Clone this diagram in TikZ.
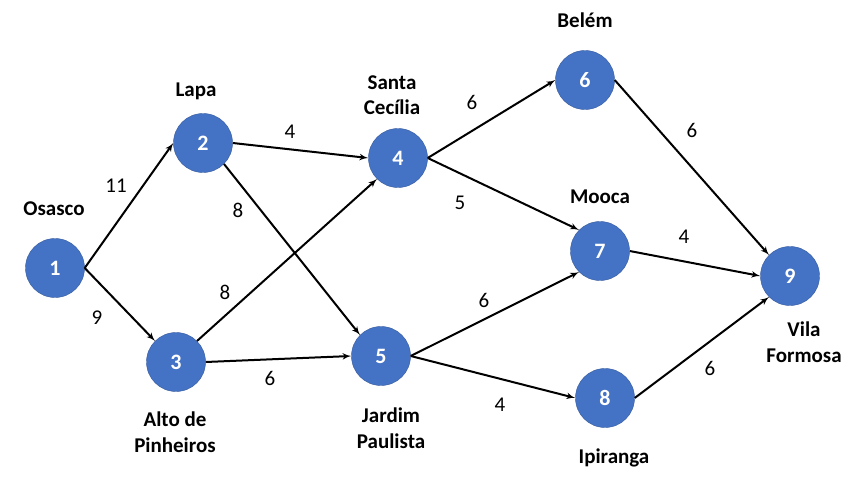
\documentclass[tikz,border=0pt]{standalone}
\usepackage{fontspec}
\setmainfont{Carlito}
\usepackage{tikz}
\usetikzlibrary{shapes, arrows}
\definecolor{cityBlue}{HTML}{4472C4}
\tikzstyle{city} = [circle, fill=cityBlue, draw=cityBlue!80!black, line width=0.4pt, minimum size=59pt, inner sep=0pt, text=white, font=\fontsize{22}{25}\selectfont\bfseries]
\tikzstyle{cityName} = [text centered, align=center, font=\fontsize{21}{25.5}\selectfont\bfseries]
\tikzstyle{weight} = [text centered, font=\fontsize{21}{25}\selectfont]
\tikzstyle{connector} = [draw, -latex', line width=2pt]

\begin{document}
\begin{tikzpicture}[x=1pt, y=-1pt]
\useasboundingbox (0,0) rectangle (849,486);

\node[city] at (55,268) (osasco) {1};
\node[city] at (203,143) (lapa) {2};
\node[city] at (176,362) (altoPinheiros) {3};
\node[city] at (398,158) (santaCecilia) {4};
\node[city] at (381,356) (jardimPaulista) {5};
\node[city] at (585,80) (belem) {6};
\node[city] at (600,251) (mooca) {7};
\node[city] at (605,398) (ipiranga) {8};
\node[city] at (790,276) (vilaFormosa) {9};

\node[cityName] at (54,209) (osascoName) {Osasco};
\node[cityName] at (196,91) (lapaName) {Lapa};
\node[cityName] at (175,432) (altoPinheirosName) {Alto de\\Pinheiros};
\node[cityName] at (392,95) (santaCeciliaName) {Santa\\Cecília};
\node[cityName] at (391,428) (jardimPaulistaName) {Jardim\\Paulista};
\node[cityName] at (585,20) (belemName) {Belém};
\node[cityName] at (600,197) (moocaName) {Mooca};
\node[cityName] at (614,458) (ipirangaName) {Ipiranga};
\node[cityName] at (804,342) (vilaFormosaName) {Vila\\Formosa};

\path [connector] (osasco.east) -- (lapa.west);
\path [connector] (osasco.east) -- (altoPinheiros.north west);
\path [connector] (lapa.east) -- (santaCecilia.west);
\path [connector] (lapa.south east) -- (jardimPaulista.north west);
\path [connector] (altoPinheiros.north east) -- (santaCecilia.south west);
\path [connector] (altoPinheiros.east) -- (jardimPaulista.west);
\path [connector] (santaCecilia.east) -- (belem.west);
\path [connector] (santaCecilia.east) -- (mooca.north west);
\path [connector] (jardimPaulista.east) -- (mooca.south west);
\path [connector] (jardimPaulista.east) -- (ipiranga.west);
\path [connector] (belem.east) -- (vilaFormosa.north west);
\path [connector] (mooca.east) -- (vilaFormosa.west);
\path [connector] (ipiranga.east) -- (vilaFormosa.south west);

\node[weight] at (116,186) (wOsascoLapa) {11};
\node[weight] at (97,318) (wOsascoAlto) {9};
\node[weight] at (290,132) (wLapaSanta) {4};
\node[weight] at (238,210) (wLapaJardim) {8};
\node[weight] at (225,292) (wAltoSanta) {8};
\node[weight] at (270,378) (wAltoJardim) {6};
\node[weight] at (472,102) (wSantaBelem) {6};
\node[weight] at (460,203) (wSantaMooca) {5};
\node[weight] at (484,300) (wJardimMooca) {6};
\node[weight] at (500,405) (wJardimIpiranga) {4};
\node[weight] at (692,130) (wBelemVila) {6};
\node[weight] at (684,237) (wMoocaVila) {4};
\node[weight] at (710,368) (wIpirangaVila) {6};

\end{tikzpicture}
\end{document}
